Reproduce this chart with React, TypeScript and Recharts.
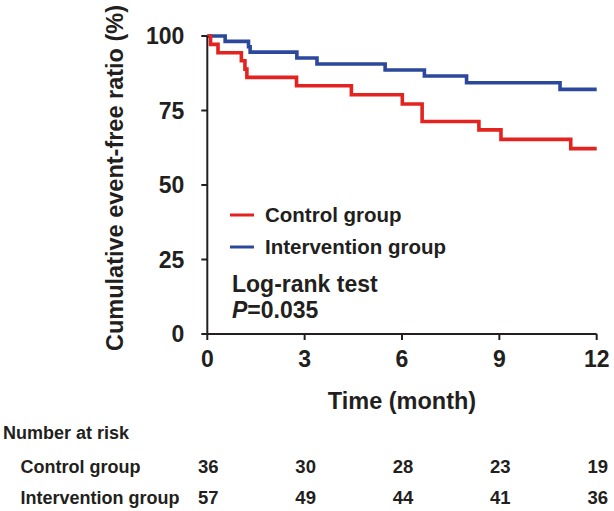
import React from "react";
import { LineChart, Line, XAxis, YAxis } from "recharts";

// Kaplan-Meier estimates (time in months, survival in %)
const controlTimes = [0, 0.1, 0.33, 1.05, 1.16, 1.22, 2.75, 4.44, 6.01, 6.62, 8.37, 9.05, 11.2, 12];
const controlSurv = [100, 97.2, 94.4, 91.7, 88.9, 86.1, 83.3, 80.3, 77.2, 71.3, 68.5, 65.3, 62.2, 62.2];
const interventionTimes = [0, 0.55, 1.27, 1.32, 2.76, 3.38, 5.48, 6.69, 7.99, 10.87, 12];
const interventionSurv = [100, 98.2, 96.4, 94.6, 92.6, 90.6, 88.6, 86.6, 84.3, 82.1, 82.1];

const xTicks = [0, 3, 6, 9, 12];
const yTicks = [0, 25, 50, 75, 100];

const groupNames = ["Control group", "Intervention group"];
const controlAtRisk = [36, 30, 28, 23, 19];
const interventionAtRisk = [57, 49, 44, 41, 36];

const RED = "#e2231f";
const BLUE = "#2c489c";
const INK = "#231f20";
const FONT = "'Liberation Sans', Arial, Helvetica, sans-serif";

// plot frame
const W = 614;
const H = 511;
const PLOT_LEFT = 207.3;
const PLOT_RIGHT = 596.7;

const controlData = controlTimes.map((t, i) => ({ t, s: controlSurv[i] }));
const interventionData = interventionTimes.map((t, i) => ({ t, s: interventionSurv[i] }));

const xPos = (t: number) => PLOT_LEFT + (t / 12) * (PLOT_RIGHT - PLOT_LEFT);

function YTitle(props: any) {
  const { viewBox } = props;
  const cx = viewBox.x - 24;
  const cy = viewBox.y + viewBox.height / 2 - 7;
  return (
    <text
      x={cx}
      y={cy}
      transform={`rotate(-90 ${cx} ${cy})`}
      textAnchor="middle"
      fill={INK}
      fontFamily={FONT}
      fontWeight="bold"
      fontSize={23.5}
    >
      Cumulative event-free ratio (%)
    </text>
  );
}

function XTitle(props: any) {
  const { viewBox } = props;
  return (
    <text
      x={viewBox.x + viewBox.width / 2}
      y={viewBox.y + 75}
      textAnchor="middle"
      fill={INK}
      fontFamily={FONT}
      fontWeight="bold"
      fontSize={23.5}
    >
      Time (month)
    </text>
  );
}

export default function App() {
  const tickStyle = { fill: INK, fontSize: 23, fontWeight: "bold", fontFamily: FONT };
  const axisStroke = { stroke: INK, strokeWidth: 2 };
  const riskRows = [controlAtRisk, interventionAtRisk];
  const rowBaselines = [473, 503.5];

  return (
    <div style={{ position: "absolute", left: 0, top: 0, width: W, height: H, background: "#fff" }}>
      <LineChart width={W} height={H} margin={{ top: 36, right: W - PLOT_RIGHT, left: PLOT_LEFT - 60, bottom: 147 }}>
        <XAxis
          type="number"
          dataKey="t"
          domain={[0, 12]}
          ticks={xTicks}
          height={30}
          tickSize={6}
          tickMargin={11}
          axisLine={axisStroke}
          tickLine={axisStroke}
          tick={tickStyle}
          label={<XTitle />}
        />
        <YAxis
          type="number"
          domain={[0, 100]}
          ticks={yTicks}
          width={60}
          tickSize={6}
          tickMargin={17}
          axisLine={axisStroke}
          tickLine={axisStroke}
          tick={tickStyle}
          label={<YTitle />}
        />
        <Line
          data={interventionData}
          dataKey="s"
          type="stepAfter"
          stroke={BLUE}
          strokeWidth={3.6}
          dot={false}
          isAnimationActive={false}
        />
        <Line
          data={controlData}
          dataKey="s"
          type="stepAfter"
          stroke={RED}
          strokeWidth={3.6}
          dot={false}
          isAnimationActive={false}
        />
      </LineChart>

      <svg
        width={W}
        height={H}
        style={{ position: "absolute", left: 0, top: 0, pointerEvents: "none" }}
        fontFamily={FONT}
        fontWeight="bold"
        fill={INK}
      >
        {/* legend */}
        <line x1={230} x2={254} y1={215} y2={215} stroke={RED} strokeWidth={3} />
        <text x={265} y={215} dy="0.36em" fontSize={20.5}>{groupNames[0]}</text>
        <line x1={230} x2={254} y1={247} y2={247} stroke={BLUE} strokeWidth={3} />
        <text x={265} y={247} dy="0.36em" fontSize={20.5}>{groupNames[1]}</text>

        <text x={232} y={292} fontSize={23}>Log-rank test</text>
        <text x={232} y={318} fontSize={23}>
          <tspan fontStyle="italic">P</tspan>=0.035
        </text>

        {/* number at risk */}
        <text x={3} y={438.5} fontSize={18}>Number at risk</text>
        {riskRows.map((row, r) => (
          <g key={r}>
            <text x={20.5} y={rowBaselines[r]} fontSize={18}>{groupNames[r]}</text>
            {row.map((n, i) => (
              <text key={i} x={xPos(xTicks[i]) + 1} y={rowBaselines[r]} fontSize={18.5} textAnchor="middle">
                {n}
              </text>
            ))}
          </g>
        ))}
      </svg>
    </div>
  );
}
